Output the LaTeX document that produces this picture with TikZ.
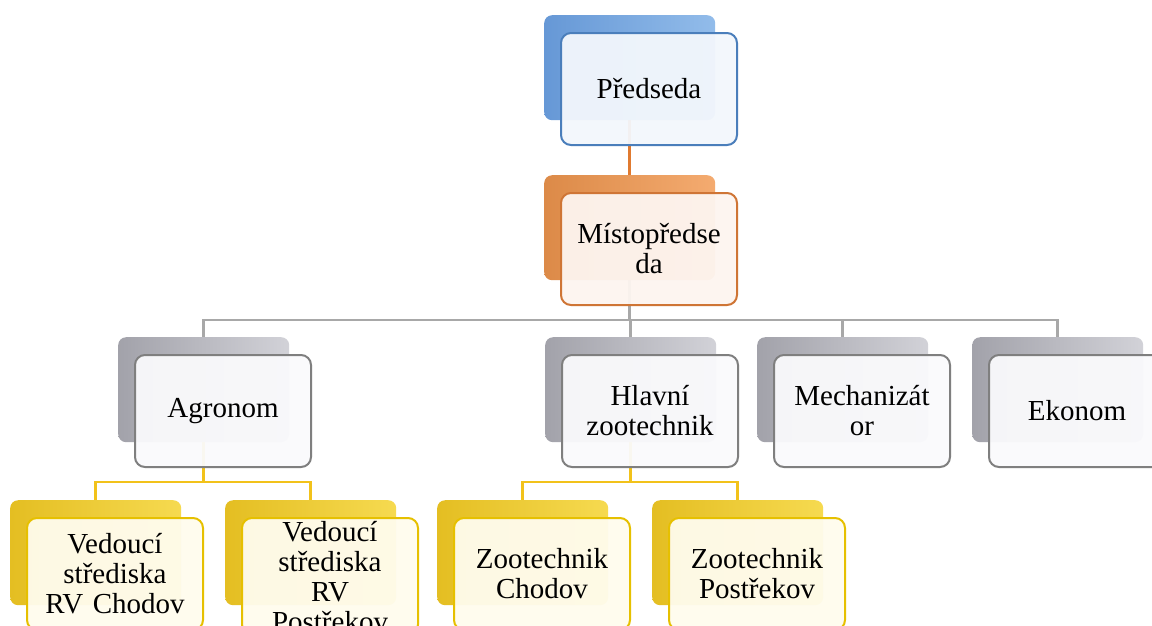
\documentclass[tikz,border=0pt]{standalone}
\usepackage{fontspec}
\setmainfont{Liberation Serif}
\usetikzlibrary{backgrounds}
\definecolor{bluebk}{HTML}{92BCEA}
\definecolor{bluedk}{HTML}{6698D6}
\definecolor{bluebd}{HTML}{4A7EBB}
\definecolor{bluefl}{HTML}{F3F7FC}
\definecolor{orgbk}{HTML}{F4AB70}
\definecolor{orgdk}{HTML}{DC8A48}
\definecolor{orgbd}{HTML}{CF7535}
\definecolor{orgfl}{HTML}{FDF5F0}
\definecolor{orgln}{HTML}{E07A30}
\definecolor{grybk}{HTML}{D2D2D8}
\definecolor{grydk}{HTML}{A2A2AA}
\definecolor{grybd}{HTML}{7F7F7F}
\definecolor{gryfl}{HTML}{FAFAFC}
\definecolor{gryln}{HTML}{A8A8A8}
\definecolor{yelbk}{HTML}{F6DA50}
\definecolor{yeldk}{HTML}{E4BE22}
\definecolor{yelbd}{HTML}{E6C000}
\definecolor{yelfl}{HTML}{FFFCEE}
\definecolor{yelln}{HTML}{F2C21A}
\begin{document}
\begin{tikzpicture}[x=1pt,y=-1pt,
  backbox/.style={rounded corners=8pt, minimum width=171pt, minimum height=105pt, anchor=north west, inner sep=0pt},
  frontbox/.style={rounded corners=10pt, line width=2pt, minimum width=176pt, minimum height=112pt, anchor=north west, align=center, inner sep=3pt, text width=170pt, font=\fontsize{29}{30}\selectfont, fill opacity=0.95, text opacity=1},
  bluebox/.style={frontbox, draw=bluebd, fill=bluefl},
  orgbox/.style={frontbox, draw=orgbd, fill=orgfl},
  grybox/.style={frontbox, draw=grybd, fill=gryfl},
  yelbox/.style={frontbox, draw=yelbd, fill=yelfl},
  blueback/.style={backbox, left color=bluedk, right color=bluebk},
  orgback/.style={backbox, left color=orgdk, right color=orgbk},
  gryback/.style={backbox, left color=grydk, right color=grybk},
  yelback/.style={backbox, left color=yeldk, right color=yelbk},
  conn/.style={line width=2.6pt},
]
\useasboundingbox (0,0) rectangle (1152,625);
\clip (0,0) rectangle (1152,625);

% level 0
\node[blueback] (Pb) at (544,15) {};
\node[bluebox] (P) at (560,32) {Předseda};
% level 1
\node[orgback] (Mb) at (544,175) {};
\node[orgbox] (M) at (560,192) {Místopředse\\da};
% level 2
\node[gryback] (Ab) at (118,337) {};
\node[grybox] (A) at (134,354) {Agronom};
\node[gryback] (Hb) at (545,337) {};
\node[grybox] (H) at (561,354) {Hlavní\\zootechnik};
\node[gryback] (Meb) at (757,337) {};
\node[grybox] (Me) at (773,354) {Mechanizát\\or};
\node[gryback] (Eb) at (972,337) {};
\node[grybox] (E) at (988,354) {Ekonom};
% level 3
\node[yelback] (V1b) at (10,500) {};
\node[yelbox] (V1) at (26,517) {Vedoucí\\střediska\\\mbox{RV Chodov}};
\node[yelback] (V2b) at (225,500) {};
\node[yelbox] (V2) at (241,517) {Vedoucí\\střediska\\RV\\Postřekov};
\node[yelback] (Z1b) at (437,500) {};
\node[yelbox] (Z1) at (453,517) {Zootechnik\\Chodov};
\node[yelback] (Z2b) at (652,500) {};
\node[yelbox] (Z2) at (668,517) {Zootechnik\\Postřekov};

\coordinate (g) at (0,320);
\coordinate (ya) at (0,482);

\begin{scope}[on background layer]
\fill[white] (0,0) rectangle (1152,625);
\draw[conn, orgln] (Pb.center) -- (Mb.north);
\draw[conn, gryln] (Mb.center) -- (Mb.center |- g) -| (Ab.north);
\draw[conn, gryln] (Mb.center |- g) -| (Hb.north);
\draw[conn, gryln] (Mb.center |- g) -| (Meb.north);
\draw[conn, gryln] (Mb.center |- g) -| (Eb.north);
\draw[conn, yelln] (Ab.center) -- (Ab.center |- ya) -| (V1b.north);
\draw[conn, yelln] (Ab.center |- ya) -| (V2b.north);
\draw[conn, yelln] (Hb.center) -- (Hb.center |- ya) -| (Z1b.north);
\draw[conn, yelln] (Hb.center |- ya) -| (Z2b.north);
\end{scope}
\end{tikzpicture}
\end{document}
